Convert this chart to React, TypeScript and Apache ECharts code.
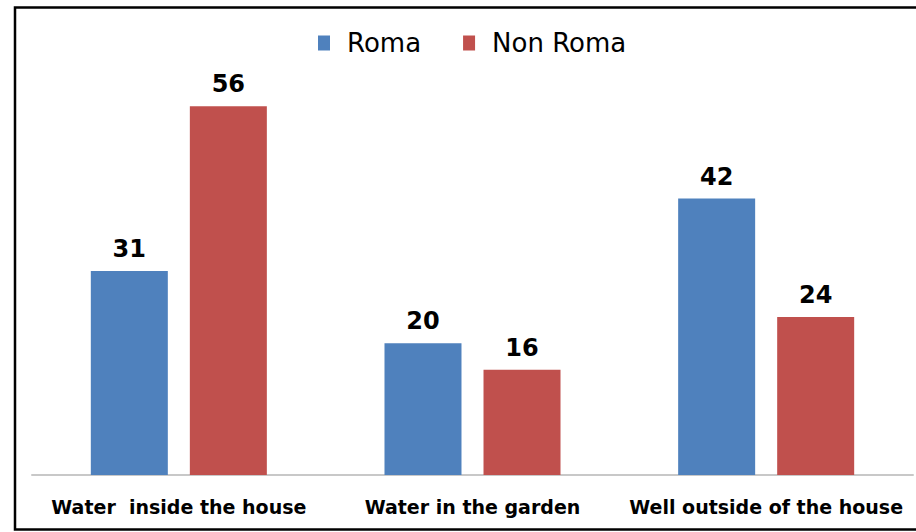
import React, { useEffect, useRef } from "react";
import * as echarts from "echarts";

const categories = ["Water  inside the house", "Water in the garden", "Well outside of the house"];
const roma = [31, 20, 42];
const nonRoma = [56, 16, 24];
const seriesNames = ["Roma", "Non Roma"];

export default function App() {
  const ref = useRef<HTMLDivElement>(null);
  useEffect(() => {
    const chart = echarts.init(ref.current!, null, { renderer: "svg" });
    const labelStyle = {
      show: true,
      position: "top" as const,
      distance: 10,
      fontFamily: "DejaVu Sans",
      fontWeight: "bold" as const,
      fontSize: 24,
      color: "#000",
    };
    chart.setOption({
      animation: false,
      backgroundColor: "#fff",
      graphic: [
        {
          type: "rect",
          shape: { x: 15, y: 7.5, width: 920, height: 522 },
          style: { fill: "none", stroke: "#000", lineWidth: 2.5 },
          silent: true,
        },
      ],
      legend: {
        data: seriesNames,
        top: 25,
        left: 313,
        itemWidth: 12,
        itemHeight: 15,
        itemGap: 42,
        icon: "rect",
        textStyle: {
          fontFamily: "DejaVu Sans",
          fontSize: 26,
          color: "#000",
          padding: [0, 0, 0, 12],
        },
      },
      grid: { left: 32, right: 3, top: 80, height: 395, containLabel: false },
      xAxis: {
        type: "category",
        data: categories,
        axisLine: { show: true, lineStyle: { color: "#c8c8c8", width: 2 } },
        axisTick: { show: false },
        axisLabel: {
          margin: 22,
          fontFamily: "DejaVu Sans",
          fontWeight: "bold",
          fontSize: 19,
          color: "#000",
          interval: 0,
        },
      },
      yAxis: {
        type: "value",
        min: 0,
        max: 60,
        show: false,
        splitLine: { show: false },
      },
      series: [
        {
          name: seriesNames[0],
          type: "bar",
          data: roma,
          barWidth: 77,
          barGap: "28.6%",
          barCategoryGap: "40%",
          itemStyle: { color: "#4F81BD" },
          label: labelStyle,
        },
        {
          name: seriesNames[1],
          type: "bar",
          data: nonRoma,
          barWidth: 77,
          barGap: "28.6%",
          barCategoryGap: "40%",
          itemStyle: { color: "#C0504D" },
          label: labelStyle,
        },
      ],
    });
    return () => chart.dispose();
  }, []);
  return <div ref={ref} style={{ width: 916, height: 532, position: "absolute", left: 0, top: 0 }} />;
}
